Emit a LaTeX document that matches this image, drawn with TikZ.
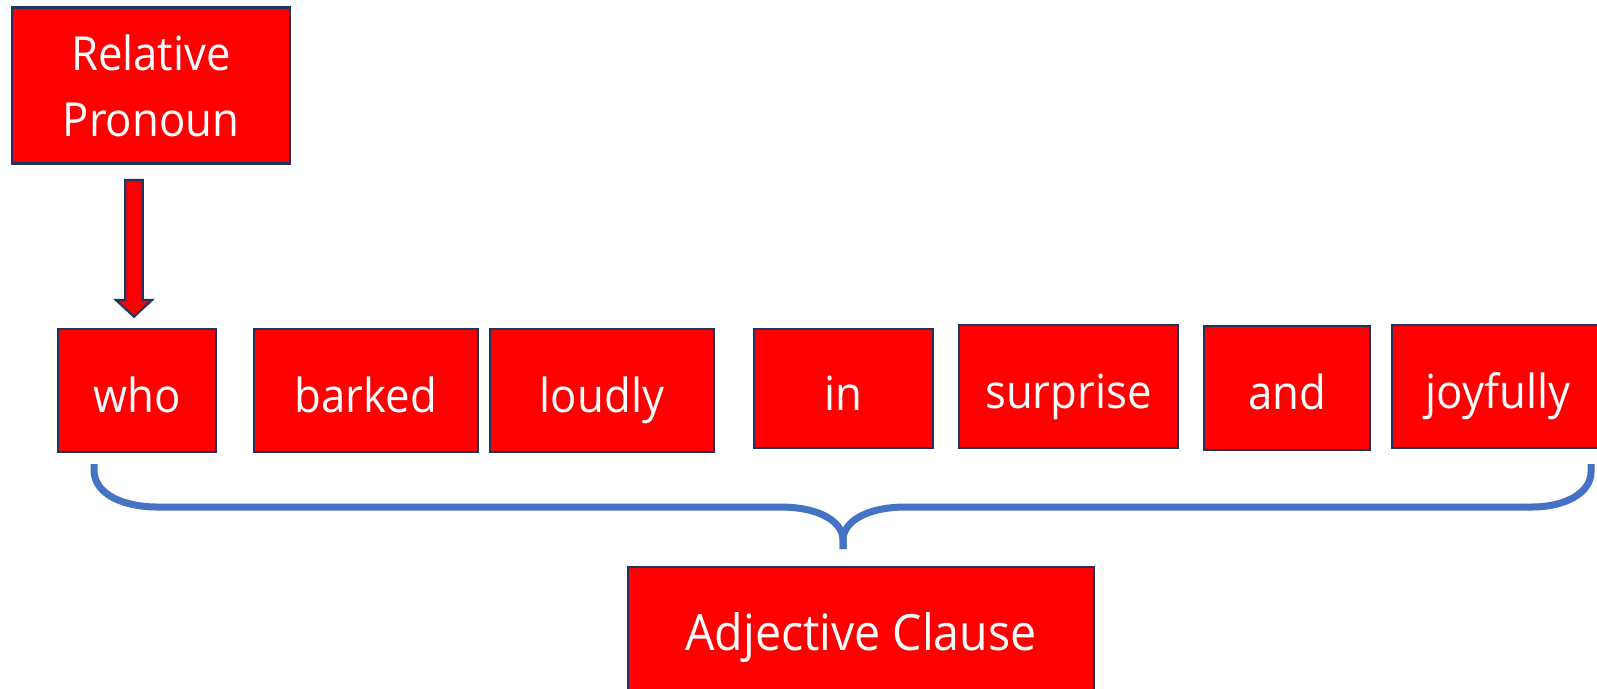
\documentclass[tikz,border=0pt]{standalone}
\usepackage{fontspec}
\setmainfont{Open Sans}[FakeStretch=0.93]
\definecolor{boxred}{HTML}{FF0000}
\definecolor{navy}{HTML}{1F3560}
\definecolor{braceblue}{HTML}{4472C4}
\tikzset{
  wordbox/.style={draw=navy, line width=2.8pt, fill=boxred, text=white, inner sep=0pt,
    font=\fontsize{47}{56}\selectfont, text height=44pt, text depth=1pt},
  bracestyle/.style={draw=braceblue, line width=7pt},
  blockarrow/.style={draw=navy, line width=2.2pt, fill=boxred, line join=miter}
}
\begin{document}
\begin{tikzpicture}[x=1pt,y=-1pt]
\useasboundingbox (0,0) rectangle (1597,688);
\clip (0,0) rectangle (1597,688);
% top box
\node[draw=navy, line width=2.8pt, fill=boxred, text=white, inner sep=0pt, align=center,
  font=\fontsize{47}{66}\selectfont, minimum width=278pt, minimum height=156pt] (rp) at (151,85.5) {Relative\\Pronoun};
% word row
\node[wordbox, minimum width=158pt, minimum height=123pt] (who) at (137,390.5) {who};
\node[wordbox, minimum width=224pt, minimum height=123pt] (barked) at (366,390.5) {barked};
\node[wordbox, minimum width=224pt, minimum height=123pt] (loudly) at (602,390.5) {loudly};
\node[wordbox, minimum width=179pt, minimum height=119pt] (in) at (843.5,388.5) {in};
\node[wordbox, minimum width=219pt, minimum height=123pt] (surprise) at (1068.5,386.5) {surprise};
\node[wordbox, minimum width=166pt, minimum height=124pt] (and) at (1287,388) {and};
\node[wordbox, minimum width=212pt, minimum height=123pt] (joyfully) at (1498,386.5) {joyfully};
% bottom box
\node[wordbox, font=\fontsize{50}{60}\selectfont, text height=46pt, text depth=10pt,
  minimum width=466pt, minimum height=130pt] (ac) at (861,632) {Adjective Clause};
% block arrow from rp to who
\draw[blockarrow] (125.3,180) -- (142.7,180) -- (142.7,300) -- (152,300) -- (134,316.7)
  -- (116,300) -- (125.3,300) -- cycle;
% brace
\draw[bracestyle] (94,464) -- (94,470) .. controls (94,495) and (125,507) .. (157,507)
  -- (780,507) .. controls (820,507) and (843,522) .. (843,540) -- (843,549);
\draw[bracestyle] (843,549) -- (843,540) .. controls (843,522) and (866,507) .. (906,507)
  -- (1532,507) .. controls (1565,507) and (1591,493) .. (1591,472) -- (1591,464);
\end{tikzpicture}
\end{document}
